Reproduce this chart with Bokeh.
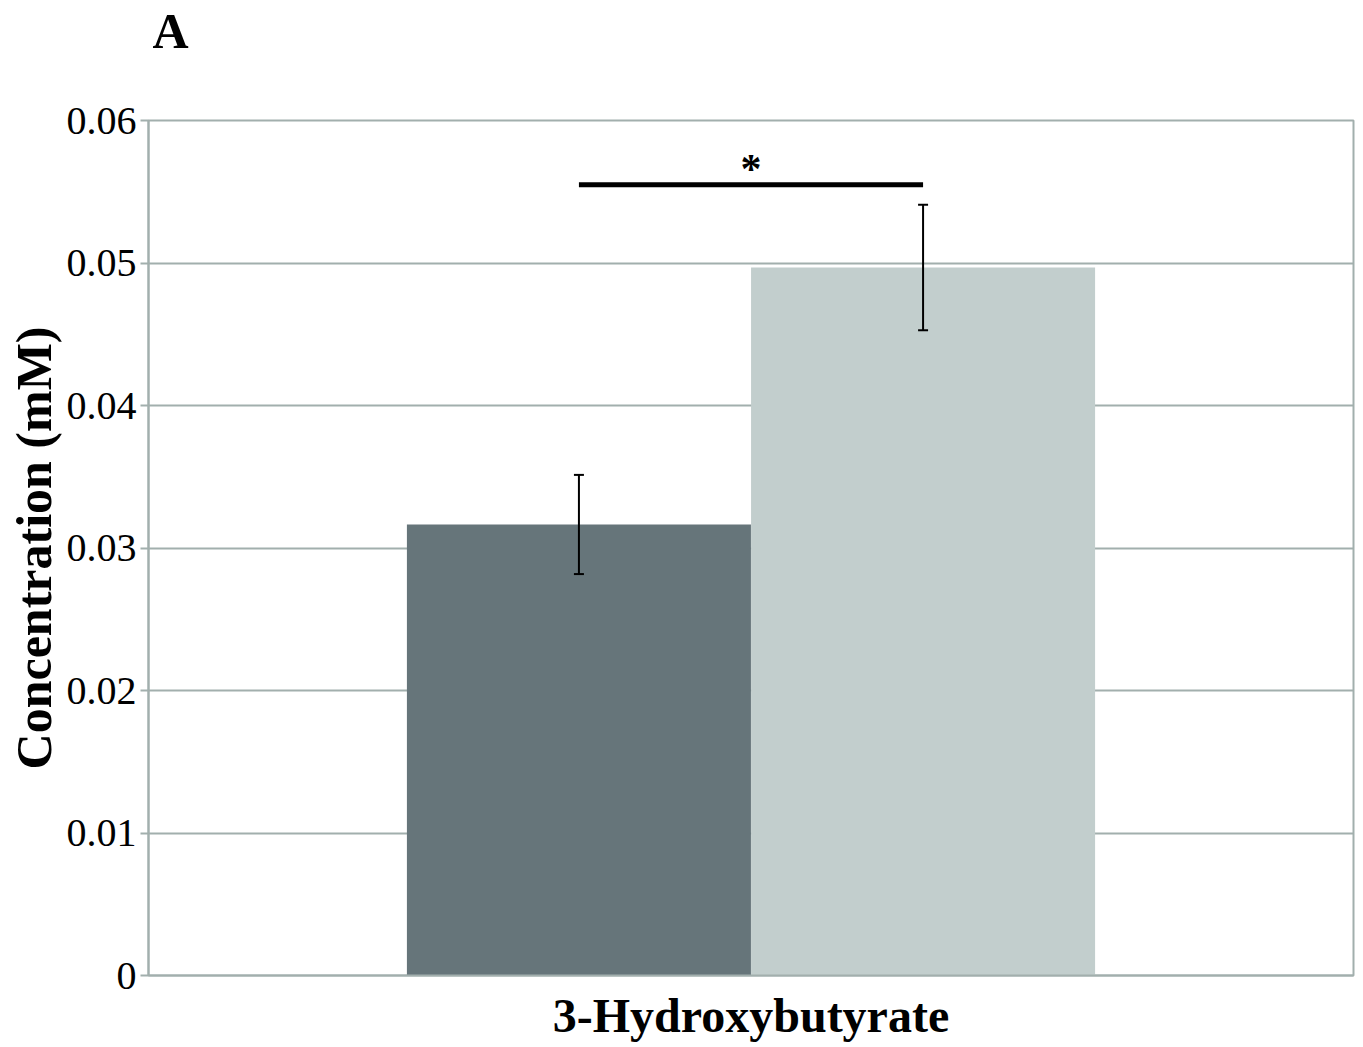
from bokeh.plotting import figure
from bokeh.models import (ColumnDataSource, Range1d, FactorRange, FixedTicker,
                          Whisker, TeeHead, Title)
from bokeh.transform import dodge
from bokeh.embed import file_html
from bokeh.resources import INLINE
from bokeh.core.properties import value

# ---- data ----
category = ["3-Hydroxybutyrate"]
groups = ["Group 1", "Group 2"]
means = [0.03165, 0.04968]
sem = [0.00348, 0.00440]
y_ticks = [0, 0.01, 0.02, 0.03, 0.04, 0.05, 0.06]
y_tick_labels = ["0", "0.01", "0.02", "0.03", "0.04", "0.05", "0.06"]
bar_colors = ["#66757a", "#c2cecd"]
sig_level = 0.0555
sig_text = "*"
panel_letter = "A"
y_label = "Concentration (mM)"

offsets = [-0.1428, 0.1428]
bar_w = 0.2855

FONT = "Liberation Serif"
GRID = "#a2afad"

p = figure(x_range=FactorRange(*category, range_padding=0),
           y_range=Range1d(0, 0.06),
           width=1355, height=1045,
           output_backend="svg", toolbar_location=None,
           min_border_left=148, min_border_right=2,
           min_border_top=120, min_border_bottom=70)

# panel letter as title, pushed up by an empty spacer title
p.title.text = panel_letter
p.title.align = "left"
p.title.offset = 4
p.title.standoff = 0
p.title.text_font = FONT
p.title.text_font_style = "bold"
p.title.text_font_size = "50px"
p.title.text_color = "black"
p.add_layout(Title(text=" ", text_font_size="32px", standoff=24), "above")

for i in range(len(groups)):
    src = ColumnDataSource(dict(
        x=category, top=[means[i]],
        upper=[means[i] + sem[i]], lower=[means[i] - sem[i]]))
    p.vbar(x=dodge("x", offsets[i], range=p.x_range), top="top", bottom=0,
           width=bar_w, fill_color=bar_colors[i], line_color=None, source=src)
    w = Whisker(base=dodge("x", offsets[i], range=p.x_range),
                upper="upper", lower="lower", source=src, level="overlay",
                line_color="black", line_width=2,
                upper_head=TeeHead(size=10, line_color="black", line_width=2),
                lower_head=TeeHead(size=10, line_color="black", line_width=2))
    p.add_layout(w)

# significance bar
sig_src = ColumnDataSource(dict(x=category, y=[sig_level], ys=[sig_level + 0.0011]))
p.segment(x0=dodge("x", offsets[0], range=p.x_range),
          x1=dodge("x", offsets[1], range=p.x_range),
          y0="y", y1="y", line_color="black", line_width=5, source=sig_src)
p.text(x="x", y="ys", text=value(sig_text), source=sig_src,
       text_font=value(FONT), text_font_style="bold", text_font_size="42px",
       text_align="center", text_baseline="middle", text_color="black")

# axes styling
p.xgrid.grid_line_color = None
p.ygrid.grid_line_color = GRID
p.ygrid.grid_line_width = 2
p.ygrid.ticker = FixedTicker(ticks=y_ticks)

p.yaxis.ticker = FixedTicker(ticks=y_ticks)
p.yaxis.major_label_overrides = {t: l for t, l in zip(y_ticks, y_tick_labels)}
p.yaxis.major_label_text_font = FONT
p.yaxis.major_label_text_font_size = "40px"
p.yaxis.major_label_text_color = "black"
p.yaxis.major_label_standoff = 4
p.yaxis.major_tick_out = 8
p.yaxis.major_tick_in = 0
p.yaxis.minor_tick_line_color = None
p.yaxis.axis_line_color = GRID
p.yaxis.axis_line_width = 2
p.yaxis.major_tick_line_color = GRID
p.yaxis.major_tick_line_width = 2
p.yaxis.axis_label = y_label
p.yaxis.axis_label_text_font = FONT
p.yaxis.axis_label_text_font_style = "bold"
p.yaxis.axis_label_text_font_size = "50px"
p.yaxis.axis_label_text_color = "black"
p.yaxis.axis_label_standoff = 2

p.xaxis.major_label_text_font = FONT
p.xaxis.major_label_text_font_style = "bold"
p.xaxis.major_label_text_font_size = "48px"
p.xaxis.major_label_text_color = "black"
p.xaxis.major_label_standoff = 7
p.xaxis.major_tick_line_color = None
p.xaxis.axis_line_color = GRID
p.xaxis.axis_line_width = 2

p.outline_line_color = GRID
p.outline_line_width = 2
p.background_fill_color = "white"
p.border_fill_color = "white"

open("out.html", "w").write(file_html(p, INLINE))
